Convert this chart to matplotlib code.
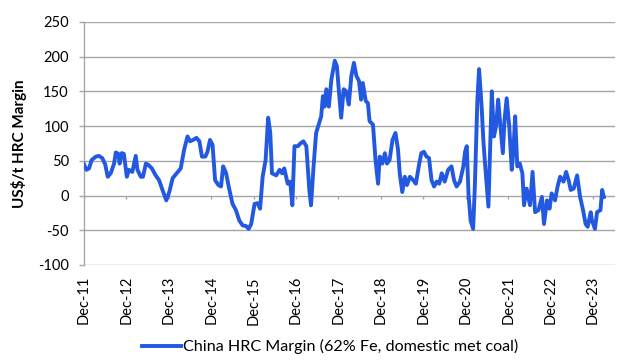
import matplotlib
matplotlib.use("Agg")
import matplotlib.pyplot as plt
import numpy as np

plt.rcParams['font.family'] = ['Lato', 'DejaVu Sans']
plt.rcParams['axes.unicode_minus'] = False

# decimal year, US$/t margin
years = [
    2011.92, 2011.98, 2012.04, 2012.10, 2012.20, 2012.27, 2012.35, 2012.42, 2012.48, 2012.55,
    2012.63, 2012.67, 2012.73, 2012.76, 2012.81, 2012.86, 2012.93, 2012.98, 2013.06, 2013.14,
    2013.18, 2013.26, 2013.31, 2013.38, 2013.44, 2013.52, 2013.61, 2013.69, 2013.77, 2013.86,
    2013.93, 2014.01, 2014.12, 2014.20, 2014.28, 2014.36, 2014.42, 2014.49, 2014.57, 2014.64,
    2014.70, 2014.78, 2014.83, 2014.89, 2014.95, 2015.01, 2015.09, 2015.15, 2015.20, 2015.27,
    2015.33, 2015.42, 2015.50, 2015.58, 2015.66, 2015.74, 2015.80, 2015.86, 2015.94, 2016.01,
    2016.07, 2016.13, 2016.20, 2016.26, 2016.31, 2016.35, 2016.45, 2016.53, 2016.59, 2016.64,
    2016.72, 2016.78, 2016.83, 2016.88, 2016.96, 2017.02, 2017.09, 2017.16, 2017.23, 2017.27,
    2017.33, 2017.39, 2017.46, 2017.51, 2017.55, 2017.59, 2017.63, 2017.69, 2017.75, 2017.83,
    2017.88, 2017.93, 2017.98, 2018.04, 2018.10, 2018.16, 2018.22, 2018.28, 2018.34, 2018.40,
    2018.45, 2018.49, 2018.56, 2018.61, 2018.65, 2018.73, 2018.79, 2018.85, 2018.89, 2018.95,
    2019.01, 2019.06, 2019.12, 2019.19, 2019.26, 2019.32, 2019.36, 2019.42, 2019.48, 2019.53,
    2019.60, 2019.68, 2019.74, 2019.82, 2019.87, 2019.93, 2019.99, 2020.05, 2020.11, 2020.17,
    2020.23, 2020.29, 2020.35, 2020.42, 2020.50, 2020.58, 2020.64, 2020.70, 2020.78, 2020.86,
    2020.90, 2020.94, 2020.98, 2021.03, 2021.09, 2021.13, 2021.19, 2021.23, 2021.29, 2021.33,
    2021.37, 2021.45, 2021.49, 2021.53, 2021.58, 2021.63, 2021.68, 2021.72, 2021.79, 2021.83,
    2021.88, 2021.94, 2022.00, 2022.04, 2022.08, 2022.13, 2022.19, 2022.25, 2022.29, 2022.35,
    2022.43, 2022.49, 2022.55, 2022.63, 2022.71, 2022.76, 2022.83, 2022.89, 2022.94, 2023.02,
    2023.08, 2023.14, 2023.22, 2023.28, 2023.34, 2023.39, 2023.46, 2023.54, 2023.61, 2023.68,
    2023.74, 2023.79, 2023.86, 2023.89, 2023.96, 2024.01, 2024.09, 2024.13, 2024.17,
]
margin = [
    45, 37, 39, 51, 56, 57, 54, 45, 27, 32,
    46, 62, 60, 46, 61, 60, 27, 37, 34, 57,
    37, 27, 27, 46, 44, 39, 29, 22, 8, -7,
    5, 25, 33, 39, 66, 85, 78, 80, 83, 78,
    56, 56, 63, 80, 73, 22, 15, 13, 42, 32,
    13, -12, -21, -36, -43, -44, -48, -41, -12, -11,
    -19, 27, 51, 112, 90, 32, 29, 37, 32, 39,
    17, 20, -14, 71, 71, 75, 78, 71, 8, -14,
    42, 90, 104, 114, 143, 128, 153, 128, 167, 194,
    186, 148, 112, 153, 150, 131, 172, 191, 172, 165,
    138, 162, 136, 133, 107, 102, 51, 17, 56, 46,
    61, 46, 51, 80, 90, 66, 32, 5, 27, 15,
    27, 22, 17, 46, 61, 63, 56, 54, 22, 13,
    20, 17, 32, 20, 37, 42, 22, 13, 20, 42,
    63, 71, 3, -36, -48, 13, 138, 182, 128, 80,
    46, -16, 66, 150, 85, 100, 138, 109, 61, 109,
    140, 100, 37, 66, 114, 42, 46, 32, -14, 10,
    -14, 34, -24, -21, -2, -41, -7, -19, 3, -7,
    13, 27, 20, 34, 22, 8, 10, 29, -2, -21,
    -41, -45, -24, -36, -48, -24, -21, 8, -2,
]

tick_years = list(range(2011, 2024))
tick_labels = [f"Dec-{y % 100:02d}" for y in tick_years]
series_name = "China HRC Margin (62% Fe, domestic met coal)"

fig = plt.figure(figsize=(6.35, 3.64), dpi=100)
ax = fig.add_axes([0.132, 0.272, 0.837, 0.668])

grid_c = "#a6a6a6"
line, = ax.plot(years, margin, color="#2358e0", lw=2.8, solid_joinstyle="round",
                label=series_name, zorder=3)

tick_pos = [y + 11 / 12 for y in tick_years]
ax.set_xlim(2011.92, 2024.44)
ax.set_ylim(-100, 250)
ax.set_yticks(np.arange(-100, 251, 50))
ax.yaxis.grid(True, color=grid_c, lw=1.0)
ax.set_axisbelow(True)
ax.tick_params(axis="y", direction="out", length=3.8, width=1.0, color=grid_c,
               labelsize=10.5, pad=7, labelcolor="black")

ax.set_xticks(tick_pos)
ax.set_xticklabels(tick_labels, rotation=90, fontsize=10.5)
ax.tick_params(axis="x", length=0, pad=8)

# category axis crosses at zero: small tick marks there
ax.vlines(tick_pos, -5, 0, color=grid_c, lw=1.0, zorder=2)

for s in ["top", "right", "bottom"]:
    ax.spines[s].set_visible(False)
ax.spines["left"].set_color(grid_c)
ax.spines["left"].set_linewidth(1.0)

ax.set_ylabel(r"US\$/t HRC Margin", fontsize=11, fontweight="bold", labelpad=8)

fig.legend(handles=[line], loc="center", bbox_to_anchor=(0.52, 0.047), frameon=False,
           fontsize=11.6, handlelength=2.4, handletextpad=0.1)

fig.savefig("out.png", dpi=100)
